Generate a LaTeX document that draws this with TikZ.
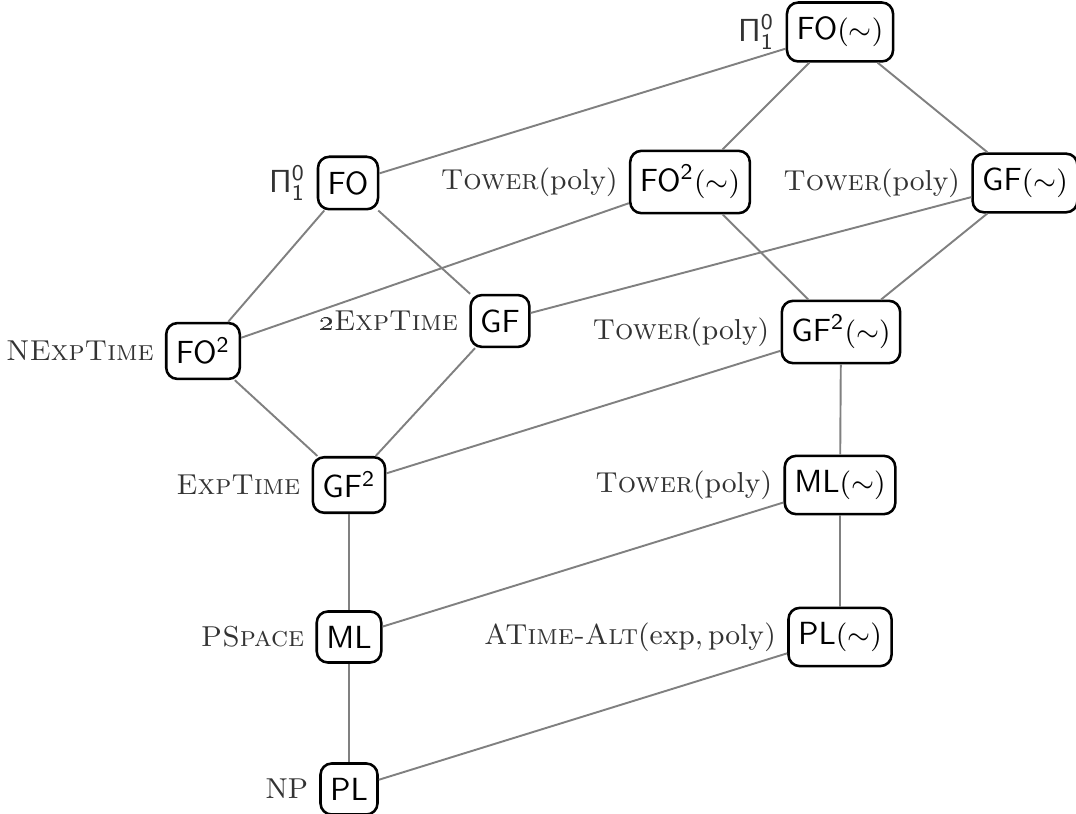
\documentclass[tikz,border=0pt]{standalone}
\begin{document}
\begin{tikzpicture}[x=0.3125pt,y=-0.3125pt,
  box/.style={draw,line width=0.8pt,rounded corners=3.5pt,fill=white,inner xsep=3pt,inner ysep=4.5pt,font=\sffamily},
  lab/.style={text=black!80,font=\small},
  pilab/.style={text=black!80,font=\normalsize},
  conn/.style={draw=black!50,line width=0.6pt}]
\useasboundingbox (0,0) rectangle (1076,814);
\newcommand{\sm}{{\small$(\sim)$}}
\newcommand{\tw}{\textsc{Tower}(poly)}
% left cube
\node[box,label={[pilab]left:$\mathsf{\Pi^0_1}$}] (fo) at (348,183) {FO};
\node[box,label={[lab]left:\textsc{NExpTime}}] (fo2) at (203,351) {FO$^{\mathsf{2}}$};
\node[box,label={[lab]left:\oldstylenums{2}\textsc{ExpTime}}] (gf) at (500,321) {GF};
\node[box,label={[lab]left:\textsc{ExpTime}}] (gf2) at (349,485) {GF$^{\mathsf{2}}$};
\node[box,label={[lab]left:\textsc{PSpace}}] (ml) at (349,637) {ML};
\node[box,label={[lab]left:NP}] (pl) at (349,789) {PL};
% right cube
\node[box,label={[pilab]left:$\mathsf{\Pi^0_1}$}] (fot) at (840,32) {FO\sm};
\node[box,label={[lab]left:\tw}] (fo2t) at (690,182) {FO$^{\mathsf{2}}$\sm};
\node[box,label={[lab]left:\tw}] (gft) at (1025,183) {GF\sm};
\node[box,label={[lab]left:\tw}] (gf2t) at (841,332) {GF$^{\mathsf{2}}$\sm};
\node[box,label={[lab]left:\tw}] (mlt) at (840,485) {ML\sm};
\node[box,label={[lab]left:\textsc{ATime-Alt}$(\mathrm{exp},\mathrm{poly})$}] (plt) at (840,637) {PL\sm};
% connectors
\draw[conn] (fot) -- (fo);
\draw[conn] (fot) -- (fo2t);
\draw[conn] (fot) -- (gft);
\draw[conn] (fo) -- (fo2);
\draw[conn] (fo) -- (gf);
\draw[conn] (fo2t) -- (fo2);
\draw[conn] (fo2t) -- (gf2t);
\draw[conn] (gft) -- (gf);
\draw[conn] (gft) -- (gf2t);
\draw[conn] (fo2) -- (gf2);
\draw[conn] (gf) -- (gf2);
\draw[conn] (gf2t) -- (gf2);
\draw[conn] (gf2t) -- (mlt);
\draw[conn] (gf2) -- (ml);
\draw[conn] (mlt) -- (ml);
\draw[conn] (mlt) -- (plt);
\draw[conn] (ml) -- (pl);
\draw[conn] (plt) -- (pl);
\end{tikzpicture}
\end{document}
